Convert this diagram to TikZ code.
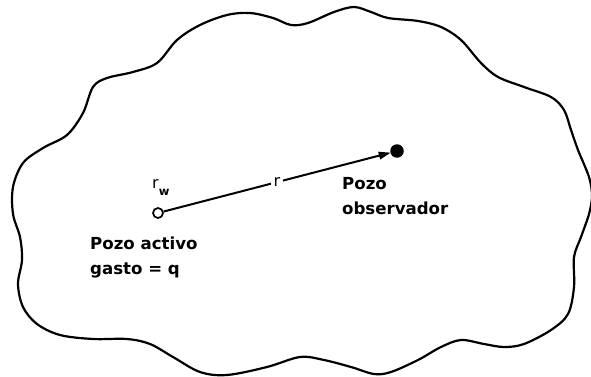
\documentclass[tikz,border=0pt]{standalone}
\usepackage{fontspec}
\setmainfont{DejaVu Sans}
\usetikzlibrary{arrows.meta}

\tikzset{
  boundary/.style={line width=2.2pt, black},
  wellopen/.style={circle, draw, line width=1.7pt, minimum size=10pt, inner sep=0pt},
  wellfilled/.style={circle, fill, minimum size=13.5pt, inner sep=0pt},
  conn/.style={line width=2pt, -{Triangle[length=12pt,width=7.5pt]}, shorten >=-0.5pt},
  gaplabel/.style={fill=white, inner sep=3pt, font=\fontsize{16}{16}\selectfont},
  wellname/.style={anchor=base west, inner sep=0pt, font=\fontsize{16.6}{16.6}\selectfont\bfseries},
}

\begin{document}
\begin{tikzpicture}[x=1pt, y=-1pt]
  \useasboundingbox (0,0) rectangle (591,377);

  % reservoir boundary
  \draw[boundary] plot[smooth cycle, tension=0.55] coordinates {
    (13,187) (23,163) (43,148) (67,135) (83,113) (93,87) (107,78) (133,72)
    (157,63) (177,40) (200,25) (227,15) (250,13) (273,18) (291,25) (308,23)
    (334,12) (354,7) (371,12) (388,18) (418,21) (441,27) (461,40) (481,63)
    (498,77) (524,87) (551,97) (564,110) (571,130) (578,150) (589,177)
    (592,196) (589,214) (581,237) (574,257) (574,287) (568,314) (551,330)
    (524,344) (504,347) (484,344) (461,340) (441,347) (418,360) (391,372)
    (374,374) (351,367) (324,360) (300,357) (267,367) (227,375) (200,372)
    (173,357) (150,344) (127,339) (93,339) (60,335) (37,324) (23,307)
    (18,284) (22,260) (20,237) (13,214)
  };

  % wells
  \node[wellopen] (active) at (158,213) {};
  \node[wellfilled] (obs) at (397,151) {};

  % distance between the wells
  \draw[conn] (active) -- node[gaplabel] (rdist) {r} (obs);

  % well radius
  \node[anchor=base west, inner sep=0pt, font=\fontsize{16}{16}\selectfont] (rw) at (152,188)
    {r\raisebox{-7pt}{\fontsize{11.5}{11.5}\selectfont\bfseries w}};

  % labels
  \node[wellname] (activo1) at (90,249) {Pozo activo};
  \node[wellname] (activo2) at (90,274) {gasto = q};
  \node[wellname] (obs1) at (342,189) {Pozo};
  \node[wellname] (obs2) at (342,214) {observador};
\end{tikzpicture}
\end{document}
